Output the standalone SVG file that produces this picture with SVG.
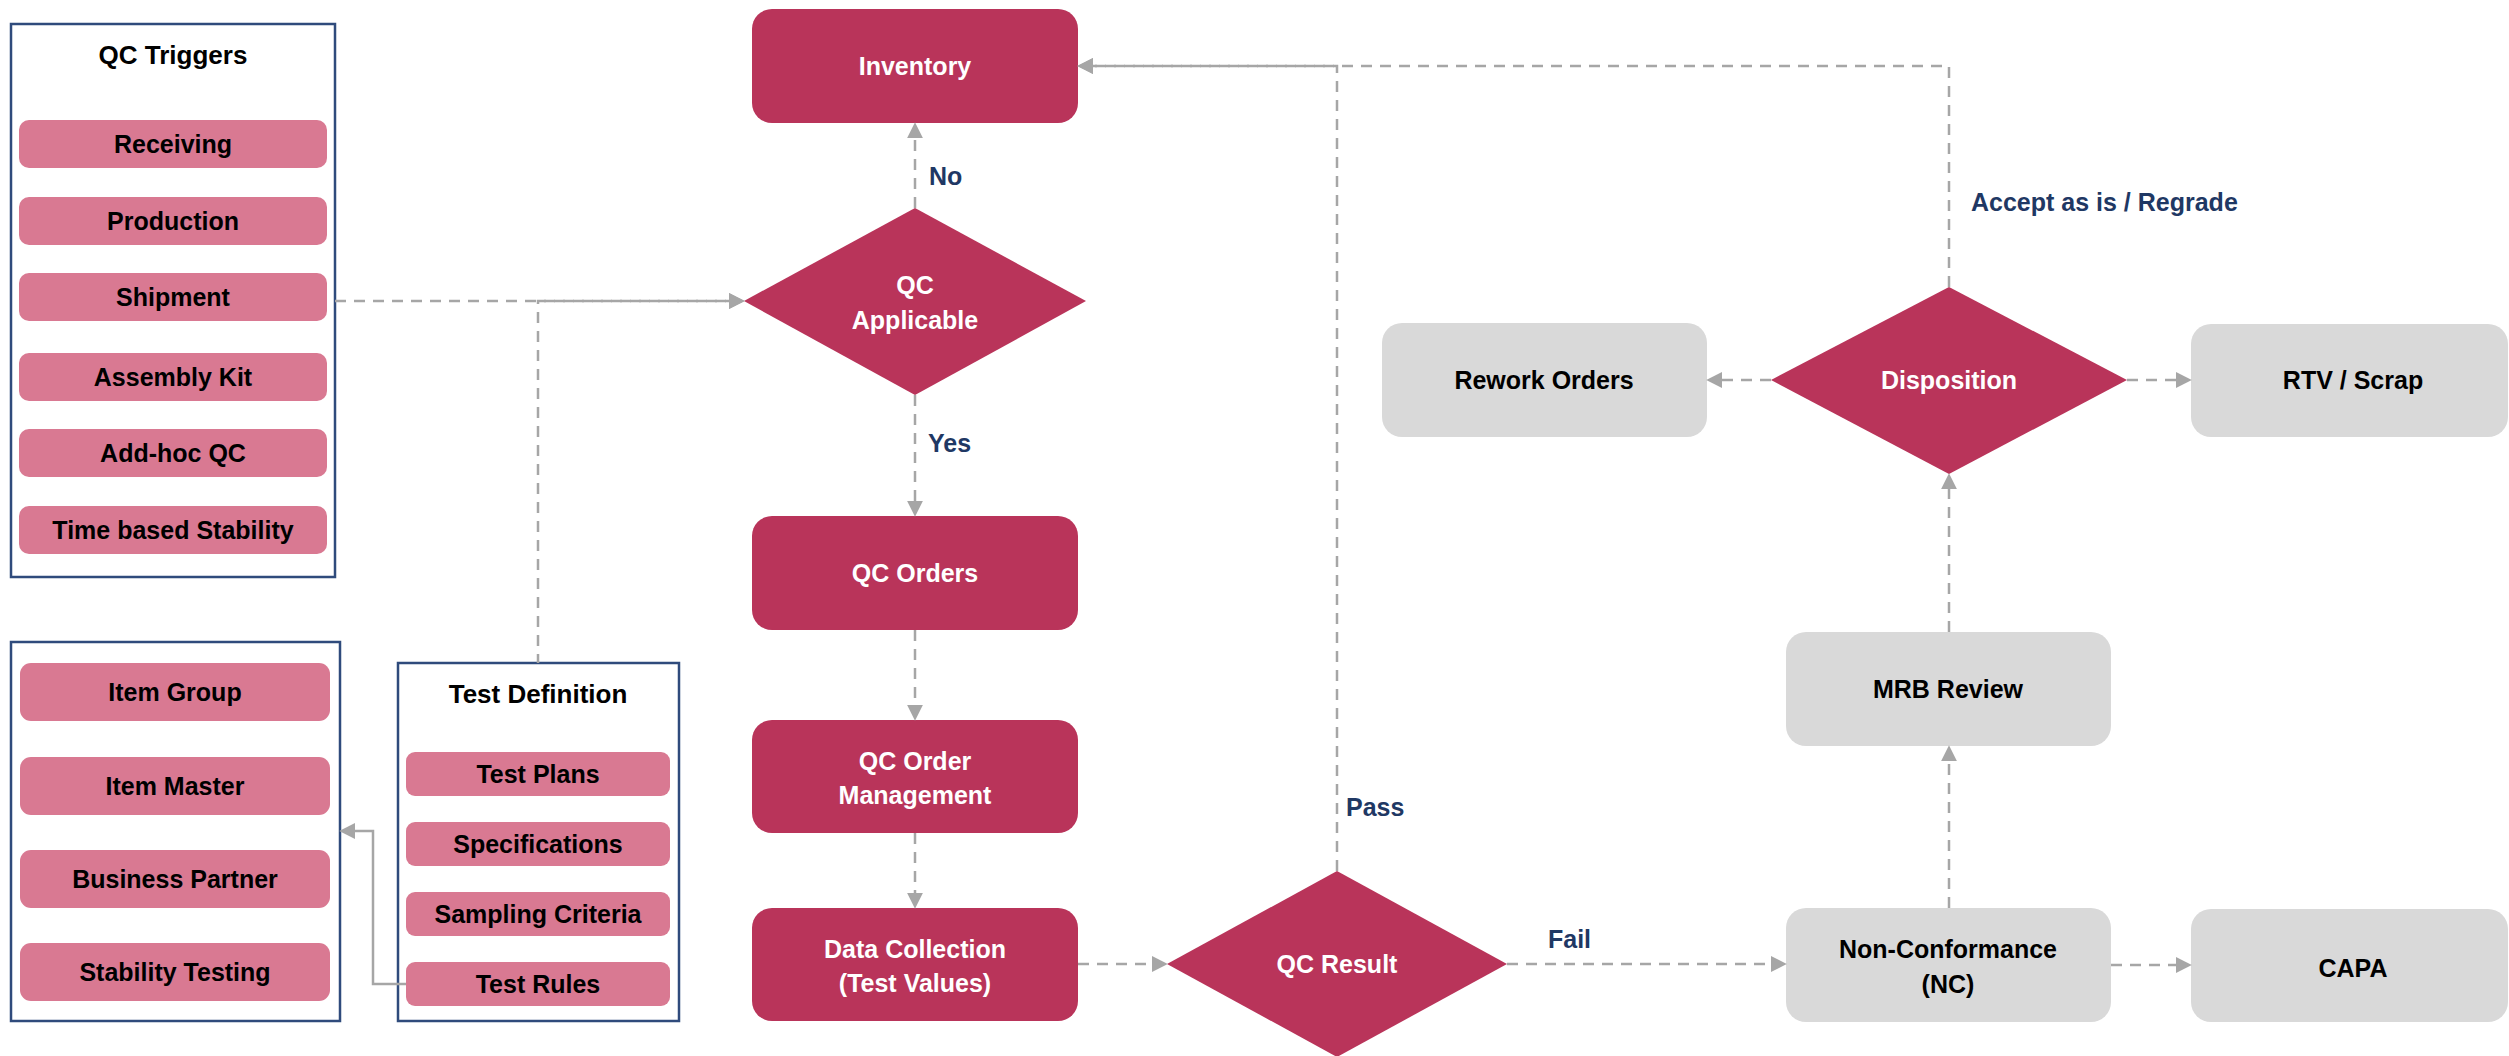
<svg xmlns="http://www.w3.org/2000/svg" width="2509" height="1056" viewBox="0 0 2509 1056">
<defs>
<style>
text{font-family:"Liberation Sans",Arial,sans-serif;font-weight:bold;text-anchor:middle}
.panel{fill:#FFFFFF;stroke:#2F4B7C;stroke-width:2.5}
.item{fill:#D97992}
.main{fill:#B9345A}
.grey{fill:#D9D9D9}
.t24{font-size:25px;fill:#000000}
.title{font-size:26px;fill:#000000}
.wt{font-size:25px;fill:#FFFFFF}
.bt{font-size:25px;fill:#000000}
.lbl{font-size:25px;fill:#1F3864;text-anchor:start}
.c{fill:none;stroke:#A6A6A6;stroke-width:2.5;stroke-dasharray:11 8}
.s{fill:none;stroke:#A6A6A6;stroke-width:2.5}
</style>
<marker id="ah" markerUnits="userSpaceOnUse" markerWidth="16" markerHeight="16" viewBox="0 0 15 15" refX="3" refY="7.5" orient="auto">
<path d="M0,0 L15,7.5 L0,15 Z" fill="#A6A6A6"/>
</marker>
</defs>
<rect width="2509" height="1056" fill="#FFFFFF"/>

<g id="qc-triggers">
<rect class="panel" x="11" y="24" width="324" height="553"/>
<text class="title" x="173" y="64">QC Triggers</text>
<g id="receiving"><rect class="item" x="19" y="120" width="308" height="48" rx="10"/><text class="t24" x="173" y="153">Receiving</text></g>
<g id="production"><rect class="item" x="19" y="197" width="308" height="48" rx="10"/><text class="t24" x="173" y="230">Production</text></g>
<g id="shipment"><rect class="item" x="19" y="273" width="308" height="48" rx="10"/><text class="t24" x="173" y="306">Shipment</text></g>
<g id="assembly-kit"><rect class="item" x="19" y="353" width="308" height="48" rx="10"/><text class="t24" x="173" y="386">Assembly Kit</text></g>
<g id="add-hoc-qc"><rect class="item" x="19" y="429" width="308" height="48" rx="10"/><text class="t24" x="173" y="462">Add-hoc QC</text></g>
<g id="time-based-stability"><rect class="item" x="19" y="506" width="308" height="48" rx="10"/><text class="t24" x="173" y="539">Time based Stability</text></g>
</g>

<g id="master-data">
<rect class="panel" x="11" y="642" width="329" height="379"/>
<g id="item-group"><rect class="item" x="20" y="663" width="310" height="58" rx="11"/><text class="t24" x="175" y="701">Item Group</text></g>
<g id="item-master"><rect class="item" x="20" y="757" width="310" height="58" rx="11"/><text class="t24" x="175" y="795">Item Master</text></g>
<g id="business-partner"><rect class="item" x="20" y="850" width="310" height="58" rx="11"/><text class="t24" x="175" y="888">Business Partner</text></g>
<g id="stability-testing"><rect class="item" x="20" y="943" width="310" height="58" rx="11"/><text class="t24" x="175" y="981">Stability Testing</text></g>
</g>

<g id="test-definition">
<rect class="panel" x="398" y="663" width="281" height="358"/>
<text class="title" x="538" y="703">Test Definition</text>
<g id="test-plans"><rect class="item" x="406" y="752" width="264" height="44" rx="9"/><text class="t24" x="538" y="783">Test Plans</text></g>
<g id="specifications"><rect class="item" x="406" y="822" width="264" height="44" rx="9"/><text class="t24" x="538" y="853">Specifications</text></g>
<g id="sampling-criteria"><rect class="item" x="406" y="892" width="264" height="44" rx="9"/><text class="t24" x="538" y="923">Sampling Criteria</text></g>
<g id="test-rules"><rect class="item" x="406" y="962" width="264" height="44" rx="9"/><text class="t24" x="538" y="993">Test Rules</text></g>
</g>

<g id="inventory"><rect class="main" x="752" y="9" width="326" height="114" rx="20"/><text class="wt" x="915" y="75">Inventory</text></g>
<g id="qc-applicable"><polygon class="main" points="915,208 1086,301 915,395 744,301"/><text class="wt" x="915" y="294">QC</text><text class="wt" x="915" y="329">Applicable</text></g>
<g id="qc-orders"><rect class="main" x="752" y="516" width="326" height="114" rx="20"/><text class="wt" x="915" y="582">QC Orders</text></g>
<g id="qc-order-management"><rect class="main" x="752" y="720" width="326" height="113" rx="20"/><text class="wt" x="915" y="770">QC Order</text><text class="wt" x="915" y="804">Management</text></g>
<g id="data-collection"><rect class="main" x="752" y="908" width="326" height="113" rx="20"/><text class="wt" x="915" y="958">Data Collection</text><text class="wt" x="915" y="992">(Test Values)</text></g>
<g id="qc-result"><polygon class="main" points="1337,871 1507,964 1337,1057 1167,964"/><text class="wt" x="1337" y="973">QC Result</text></g>
<g id="rework-orders"><rect class="grey" x="1382" y="323" width="325" height="114" rx="20"/><text class="bt" x="1544" y="389">Rework Orders</text></g>
<g id="disposition"><polygon class="main" points="1949,287 2127,380 1949,474 1771,380"/><text class="wt" x="1949" y="389">Disposition</text></g>
<g id="rtv-scrap"><rect class="grey" x="2191" y="324" width="317" height="113" rx="20"/><text class="bt" x="2353" y="389">RTV / Scrap</text></g>
<g id="mrb-review"><rect class="grey" x="1786" y="632" width="325" height="114" rx="20"/><text class="bt" x="1948" y="698">MRB Review</text></g>
<g id="non-conformance"><rect class="grey" x="1786" y="908" width="325" height="114" rx="20"/><text class="bt" x="1948" y="958">Non-Conformance</text><text class="bt" x="1948" y="993">(NC)</text></g>
<g id="capa"><rect class="grey" x="2191" y="909" width="317" height="113" rx="20"/><text class="bt" x="2353" y="977">CAPA</text></g>

<g id="connectors">
<path class="c" d="M335,301 H732" marker-end="url(#ah)"/>
<path class="c" d="M538,663 V301 H732" stroke-dashoffset="2" marker-end="url(#ah)"/>
<path class="s" d="M406,984 H373 V831 H352" marker-end="url(#ah)"/>
<path class="c" d="M915,208 V135" marker-end="url(#ah)"/>
<path class="c" d="M915,395 V504" marker-end="url(#ah)"/>
<path class="c" d="M915,630 V708" marker-end="url(#ah)"/>
<path class="c" d="M915,833 V896" marker-end="url(#ah)"/>
<path class="c" d="M1078,964 H1155" marker-end="url(#ah)"/>
<path class="c" d="M1337,871 V66 H1090" marker-end="url(#ah)"/>
<path class="c" d="M1949,287 V66 H1090" marker-end="url(#ah)"/>
<path class="c" d="M1507,964 H1774" marker-end="url(#ah)"/>
<path class="c" d="M2111,965 H2179" marker-end="url(#ah)"/>
<path class="c" d="M1949,908 V758" marker-end="url(#ah)"/>
<path class="c" d="M1949,632 V486" marker-end="url(#ah)"/>
<path class="c" d="M1771,380 H1719" marker-end="url(#ah)"/>
<path class="c" d="M2127,380 H2179" marker-end="url(#ah)"/>
<text class="lbl" x="929" y="185">No</text>
<text class="lbl" x="928" y="452">Yes</text>
<text class="lbl" x="1346" y="816">Pass</text>
<text class="lbl" x="1548" y="948">Fail</text>
<text class="lbl" x="1971" y="211">Accept as is / Regrade</text>
</g>
</svg>
